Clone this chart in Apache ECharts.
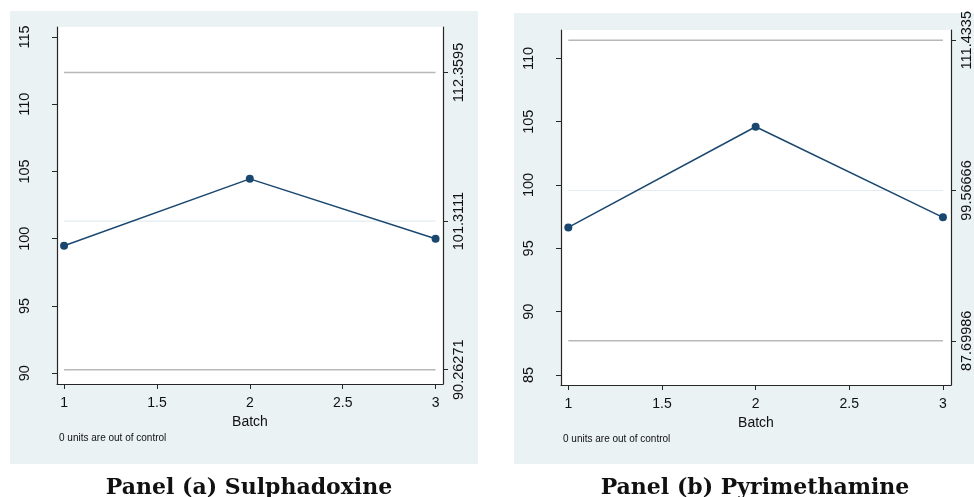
<!DOCTYPE html>
<html><head><meta charset="utf-8">
<script src="https://cdn.jsdelivr.net/npm/echarts@6/dist/echarts.min.js"></script>
<style>html,body{margin:0;padding:0;background:#fff}#c{width:974px;height:497px}</style>
</head><body><div id="c"></div>
<script>
// ---- data ----
const batches = [1, 2, 3];
const xTicks = [1, 1.5, 2, 2.5, 3];
const sulphaValues = [99.48, 104.45, 100.0];
const sulphaLimits = [90.26271, 101.3111, 112.3595];      // LCL, CL, UCL
const sulphaLimitLabels = ['90.26271', '101.3111', '112.3595'];
const sulphaYTicks = [90, 95, 100, 105, 110, 115];
const pyriValues = [96.65, 104.6, 97.45];
const pyriLimits = [87.69986, 99.56666, 111.4335];
const pyriLimitLabels = ['87.69986', '99.56666', '111.4335'];
const pyriYTicks = [85, 90, 95, 100, 105, 110];
const captions = ['Panel (a) Sulphadoxine', 'Panel (b) Pyrimethamine'];
const xName = 'Batch';
const note = '0 units are out of control';

const NAVY = '#1a476f', AX = '#262626', LIM = '#b8b8b8', CEN = '#e2ecf1';
const sans = '"Liberation Sans", Arial, sans-serif';

function xAxis(grid, min, max) {
  return {
    type: 'value', gridIndex: grid, min: min, max: max,
    name: xName, nameLocation: 'middle', nameGap: 24,
    nameTextStyle: {fontFamily: sans, fontSize: 14, color: '#111'},
    axisLine: {show: true, onZero: false, lineStyle: {color: AX, width: 1.2}},
    axisTick: {show: true, length: 5, customValues: xTicks, lineStyle: {color: AX}},
    axisLabel: {customValues: xTicks, fontFamily: sans, fontSize: 14, color: '#111', margin: 12,
      formatter: v => String(v)},
    splitLine: {show: false}
  };
}
function yLeft(grid, min, max, ticks) {
  return {
    type: 'value', gridIndex: grid, min: min, max: max, position: 'left',
    axisLine: {show: true, onZero: false, lineStyle: {color: AX, width: 1.2}},
    axisTick: {show: true, length: 5, customValues: ticks, lineStyle: {color: AX}},
    axisLabel: {customValues: ticks, rotate: 90, fontFamily: sans, fontSize: 14.5, color: '#111', margin: 25},
    splitLine: {show: false}
  };
}
function yRight(grid, min, max, vals, labels) {
  return {
    type: 'value', gridIndex: grid, min: min, max: max, position: 'right',
    axisLine: {show: true, onZero: false, lineStyle: {color: AX, width: 1.2}},
    axisTick: {show: true, length: 5, customValues: vals, lineStyle: {color: AX}},
    axisLabel: {customValues: vals, rotate: 90, fontFamily: sans, fontSize: 14.5, color: '#111', margin: 8,
      formatter: v => { const i = vals.indexOf(v); return i >= 0 ? labels[i] : ''; }},
    splitLine: {show: false}
  };
}
function limitSeries(xi, yi, value, color, width) {
  return {type: 'line', xAxisIndex: xi, yAxisIndex: yi, symbol: 'none', silent: true,
    lineStyle: {color: color, width: width}, data: [[batches[0], value], [batches[batches.length - 1], value]], z: 1};
}
function dataSeries(xi, yi, vals) {
  return {type: 'line', xAxisIndex: xi, yAxisIndex: yi, symbol: 'circle', symbolSize: 8,
    itemStyle: {color: NAVY}, lineStyle: {color: NAVY, width: 1.5},
    data: batches.map((b, i) => [b, vals[i]]), z: 3};
}

const chart = echarts.init(document.getElementById('c'), null, {renderer: 'canvas'});
chart.setOption({
  animation: false,
  backgroundColor: '#fff',
  graphic: [
    {type: 'rect', shape: {x: 10, y: 11, width: 468, height: 453}, style: {fill: '#eaf2f3'}, z: -10},
    {type: 'rect', shape: {x: 514, y: 13, width: 460, height: 451}, style: {fill: '#eaf2f3'}, z: -10},
    {type: 'text', left: 59, top: 433, style: {text: note, font: '10px ' + sans, fill: '#111'}},
    {type: 'text', left: 563, top: 434, style: {text: note, font: '10px ' + sans, fill: '#111'}}
  ],
  title: [
    {text: captions[0], left: 244, top: 472, textAlign: 'center',
      textStyle: {fontFamily: '"DejaVu Serif", serif', fontWeight: 'bold', fontSize: 22, color: '#111'}},
    {text: captions[1], left: 750, top: 472, textAlign: 'center',
      textStyle: {fontFamily: '"DejaVu Serif", serif', fontWeight: 'bold', fontSize: 22, color: '#111'}}
  ],
  grid: [
    {left: 57, top: 27, width: 386, height: 357, show: true, backgroundColor: '#fff', borderWidth: 0},
    {left: 561, top: 30, width: 390, height: 355, show: true, backgroundColor: '#fff', borderWidth: 0}
  ],
  xAxis: [xAxis(0, 0.962, 3.04), xAxis(1, 0.961, 3.043)],
  yAxis: [
    yLeft(0, 89.2, 115.74, sulphaYTicks),
    yRight(0, 89.2, 115.74, sulphaLimits, sulphaLimitLabels),
    yLeft(1, 84.21, 112.24, pyriYTicks),
    yRight(1, 84.21, 112.24, pyriLimits, pyriLimitLabels)
  ],
  series: [
    limitSeries(0, 1, sulphaLimits[0], LIM, 1.6),
    limitSeries(0, 1, sulphaLimits[2], LIM, 1.6),
    limitSeries(0, 1, sulphaLimits[1], CEN, 1.2),
    dataSeries(0, 0, sulphaValues),
    limitSeries(1, 3, pyriLimits[0], LIM, 1.6),
    limitSeries(1, 3, pyriLimits[2], LIM, 1.6),
    limitSeries(1, 3, pyriLimits[1], CEN, 1.2),
    dataSeries(1, 2, pyriValues)
  ]
});
</script></body></html>
